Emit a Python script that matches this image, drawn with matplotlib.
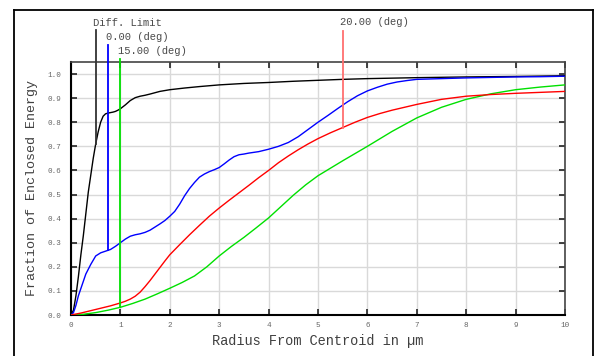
import numpy as np
import matplotlib
matplotlib.use("Agg")
import matplotlib.pyplot as plt
from matplotlib.lines import Line2D

# ---------------- data ----------------
x_diff = [0, 0.05, 0.1, 0.15, 0.2, 0.25, 0.3, 0.35, 0.4, 0.45, 0.5, 0.55, 0.6, 0.65, 0.7,
          0.75, 0.8, 0.85, 0.9, 0.95, 1.0, 1.1, 1.2, 1.3, 1.4, 1.5, 1.6, 1.8, 2.0, 2.3,
          2.6, 3.0, 3.5, 4.0, 4.5, 5.0, 5.5, 6.0, 7.0, 8.0, 9.0, 10.0]
y_diff = [0, 0.02, 0.08, 0.16, 0.25, 0.33, 0.42, 0.51, 0.58, 0.65, 0.71, 0.76, 0.80, 0.825, 0.835,
          0.838, 0.840, 0.842, 0.845, 0.85, 0.856, 0.872, 0.89, 0.902, 0.908, 0.912, 0.917, 0.928, 0.935, 0.942,
          0.948, 0.955, 0.961, 0.965, 0.970, 0.974, 0.978, 0.981, 0.985, 0.988, 0.99, 0.993]

x_0deg = [0, 0.05, 0.1, 0.15, 0.2, 0.3, 0.4, 0.5, 0.6, 0.7, 0.8, 0.9, 1.0, 1.1, 1.2, 1.3, 1.4,
          1.5, 1.6, 1.7, 1.8, 1.9, 2.0, 2.1, 2.2, 2.3, 2.4, 2.5, 2.6, 2.7, 2.8, 2.9, 3.0, 3.1,
          3.2, 3.3, 3.4, 3.5, 3.6, 3.8, 4.0, 4.2, 4.4, 4.6, 4.8, 5.0, 5.2, 5.4, 5.6, 5.8, 6.0,
          6.2, 6.4, 6.6, 6.8, 7.0, 7.5, 8.0, 8.5, 9.0, 9.5, 10.0]
y_0deg = [0, 0.01, 0.04, 0.08, 0.11, 0.17, 0.21, 0.245, 0.258, 0.265, 0.272, 0.285, 0.30, 0.315, 0.327, 0.333, 0.337,
          0.343, 0.352, 0.365, 0.378, 0.392, 0.41, 0.43, 0.46, 0.495, 0.525, 0.55, 0.572, 0.585, 0.595, 0.603, 0.612, 0.627,
          0.643, 0.657, 0.665, 0.668, 0.672, 0.678, 0.688, 0.70, 0.716, 0.74, 0.77, 0.80, 0.828, 0.857, 0.885, 0.91, 0.93,
          0.945, 0.958, 0.967, 0.973, 0.978, 0.981, 0.984, 0.986, 0.988, 0.989, 0.991]

x_15deg = [0, 0.25, 0.5, 0.75, 1.0, 1.25, 1.5, 1.75, 2.0, 2.25, 2.5, 2.75, 3.0, 3.25, 3.5, 3.75,
           4.0, 4.25, 4.5, 4.75, 5.0, 5.5, 6.0, 6.5, 7.0, 7.5, 8.0, 8.5, 9.0, 9.5, 10.0]
y_15deg = [0, 0.003, 0.01, 0.02, 0.032, 0.048, 0.066, 0.088, 0.111, 0.135, 0.162, 0.2, 0.245, 0.285, 0.322, 0.362,
           0.403, 0.45, 0.497, 0.54, 0.578, 0.64, 0.70, 0.762, 0.818, 0.862, 0.895, 0.918, 0.935, 0.946, 0.955]

x_20deg = [0, 0.2, 0.4, 0.6, 0.8, 1.0, 1.1, 1.2, 1.3, 1.4, 1.5, 1.6, 1.7, 1.8, 1.9, 2.0, 2.2, 2.4,
           2.6, 2.8, 3.0, 3.2, 3.4, 3.6, 3.8, 4.0, 4.2, 4.4, 4.6, 4.8, 5.0, 5.25, 5.5, 5.75, 6.0,
           6.25, 6.5, 7.0, 7.5, 8.0, 8.5, 9.0, 9.5, 10.0]
y_20deg = [0, 0.008, 0.018, 0.028, 0.038, 0.05, 0.057, 0.066, 0.078, 0.095, 0.118, 0.143, 0.17, 0.197, 0.224, 0.25, 0.292, 0.333,
           0.372, 0.41, 0.444, 0.476, 0.507, 0.538, 0.57, 0.60, 0.632, 0.66, 0.686, 0.71, 0.732, 0.756, 0.778, 0.80, 0.82,
           0.836, 0.85, 0.874, 0.895, 0.908, 0.915, 0.92, 0.924, 0.928]

labels = ["Diff. Limit", "0.00 (deg)", "15.00 (deg)", "20.00 (deg)"]
marker_x = [0.5, 0.755, 1.0, 5.5]
marker_top = [1.183, 1.121, 1.0625, 1.18]
label_y = [1.2125, 1.155, 1.095, 1.215]

x_ticks = list(range(0, 11))
y_ticks = [round(0.1 * i, 1) for i in range(0, 11)]

series = [(x_diff, y_diff), (x_0deg, y_0deg), (x_15deg, y_15deg), (x_20deg, y_20deg)]
colors = ["#000000", "#0000ff", "#00e000", "#ff0000"]
marker_colors = ["#333333", "#0000ff", "#00e000", "#ff6f6f"]

# ---------------- plot ----------------
mono = ["Liberation Mono", "DejaVu Sans Mono"]
fig = plt.figure(figsize=(5.95, 3.56), dpi=100)
ax = fig.add_axes([71 / 595, 41 / 356, 494 / 595, 253 / 356])

ax.set_xlim(0, 10)
ax.set_ylim(0, 1.05)
ax.set_xticks(x_ticks)
ax.set_yticks(y_ticks)
ax.set_xticklabels([str(v) for v in x_ticks], fontfamily=mono, fontsize=5.5, color="#666666")
ax.set_yticklabels([f"{v:.1f}" for v in y_ticks], fontfamily=mono, fontsize=5.5, color="#666666")
ax.tick_params(direction="in", length=4, width=1.2, top=True, right=True, color="#222222")
ax.tick_params(axis="y", pad=7)
ax.tick_params(axis="x", pad=5)
ax.grid(True, color="#d9d9d9", linewidth=1.0)
ax.set_axisbelow(True)

for side in ["left", "bottom"]:
    ax.spines[side].set_linewidth(1.5)
    ax.spines[side].set_color("#000000")
for side in ["top", "right"]:
    ax.spines[side].set_linewidth(1.2)
    ax.spines[side].set_color("#444444")

for (xs, ys), c in zip(series, colors):
    ax.plot(xs, ys, color=c, linewidth=1.0, zorder=3)

for (xs, ys), mx, mt, ly, lab, mc in zip(series, marker_x, marker_top, label_y, labels, marker_colors):
    bottom = float(np.interp(mx, xs, ys))
    ax.plot([mx, mx], [bottom, mt], color=mc, linewidth=1.3, clip_on=False, zorder=4)
    ax.text(mx - 0.05, ly, lab, fontfamily=mono, fontsize=7.6, color="#4a4a4a",
            ha="left", va="center", clip_on=False)

ax.set_xlabel("Radius From Centroid in µm", fontfamily=mono, fontsize=9.8, color="#404040", labelpad=4)
ax.set_ylabel("Fraction of Enclosed Energy", fontfamily=mono, fontsize=9.6, color="#404040", labelpad=7)

# outer frame (bottom edge lies below the image)
fl, ft, fr = 13.5 / 595, 1 - 9.5 / 356, 592.5 / 595
fig.add_artist(Line2D([fl, fl], [0, ft], transform=fig.transFigure, color="#000000", linewidth=1.3))
fig.add_artist(Line2D([fl, fr], [ft, ft], transform=fig.transFigure, color="#000000", linewidth=1.3))
fig.add_artist(Line2D([fr, fr], [ft, 0], transform=fig.transFigure, color="#000000", linewidth=1.3))

fig.savefig("out.png", dpi=100)
